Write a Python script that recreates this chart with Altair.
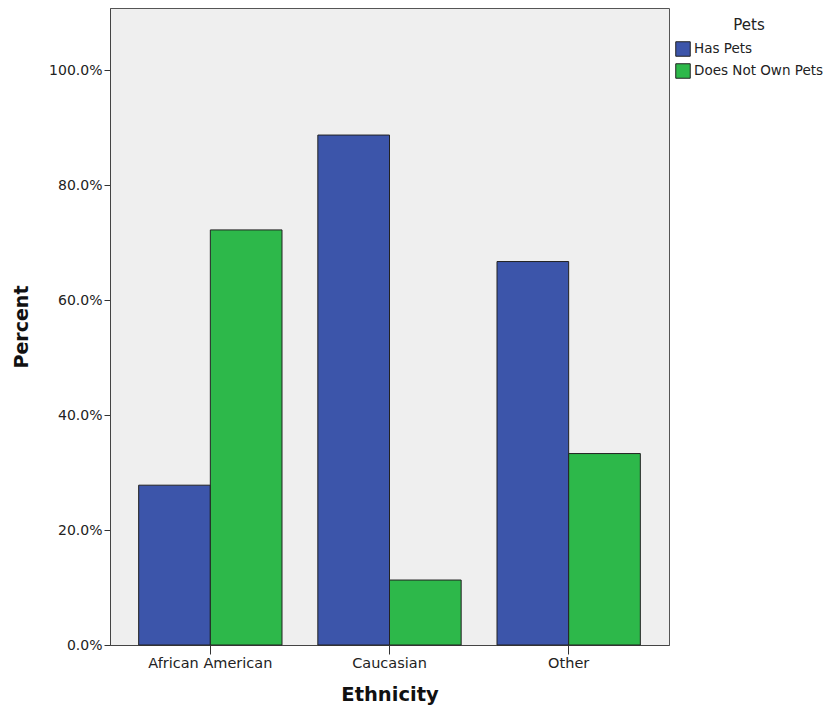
import altair as alt
import pandas as pd

ethnicity = ["African American", "Caucasian", "Other"]
pets = ["Has Pets", "Does Not Own Pets"]
has_pets = [0.278, 0.887, 0.667]
no_pets = [0.722, 0.113, 0.333]

rows = []
for i, e in enumerate(ethnicity):
    rows.append({"Ethnicity": e, "Pets": pets[0], "Percent": has_pets[i], "order": 0})
    rows.append({"Ethnicity": e, "Pets": pets[1], "Percent": no_pets[i], "order": 1})
df = pd.DataFrame(rows)

FONT = "DejaVu Sans"

chart = alt.Chart(df).mark_bar(stroke="#222222", strokeWidth=1).encode(
    x=alt.X("Ethnicity:N", sort=ethnicity,
            scale=alt.Scale(paddingInner=0.2, paddingOuter=0.16),
            axis=alt.Axis(title="Ethnicity", labelAngle=0, labelFontSize=14.5,
                          labelColor="#222222", titleFontSize=19.5, titleFontWeight="bold",
                          titleColor="#111111", tickColor="#333333", tickSize=9,
                          domainColor="#444444", labelPadding=2, titlePadding=16)),
    xOffset=alt.XOffset("Pets:N", sort=pets),
    y=alt.Y("Percent:Q", scale=alt.Scale(domain=[0, 1.108], nice=False),
            axis=alt.Axis(title="Percent", format=".1%", values=[0, 0.2, 0.4, 0.6, 0.8, 1.0],
                          labelFontSize=14, labelColor="#222222", titleFontSize=19,
                          titleFontWeight="bold", titleColor="#111111", tickColor="#333333",
                          tickSize=6, domainColor="#444444", grid=False, titlePadding=17,
                          labelPadding=2)),
    color=alt.Color("Pets:N", sort=pets,
                    scale=alt.Scale(domain=pets, range=["#3c55aa", "#2db84a"]),
                    legend=alt.Legend(title="Pets", orient="none", legendX=565, legendY=10,
                                      titleFontSize=15, titleFontWeight="normal",
                                      titleColor="#222222", titleAnchor="middle",
                                      labelFontSize=13.5, labelColor="#222222",
                                      symbolType="square", symbolSize=210,
                                      symbolStrokeColor="#222222", symbolStrokeWidth=1,
                                      symbolOpacity=1, rowPadding=2, labelOffset=3,
                                      titlePadding=8)),
    order=alt.Order("order:Q"),
).properties(
    width=559, height=637,
    autosize=alt.AutoSizeParams(type="none"),
    padding={"left": 102, "top": 0, "right": 161, "bottom": 62},
).configure(
    font=FONT, background="white",
    view=alt.ViewConfig(fill="#efefef", stroke="#555555", strokeWidth=1),
)

chart.save("out.html", embed_options={"renderer": "svg", "actions": False})
